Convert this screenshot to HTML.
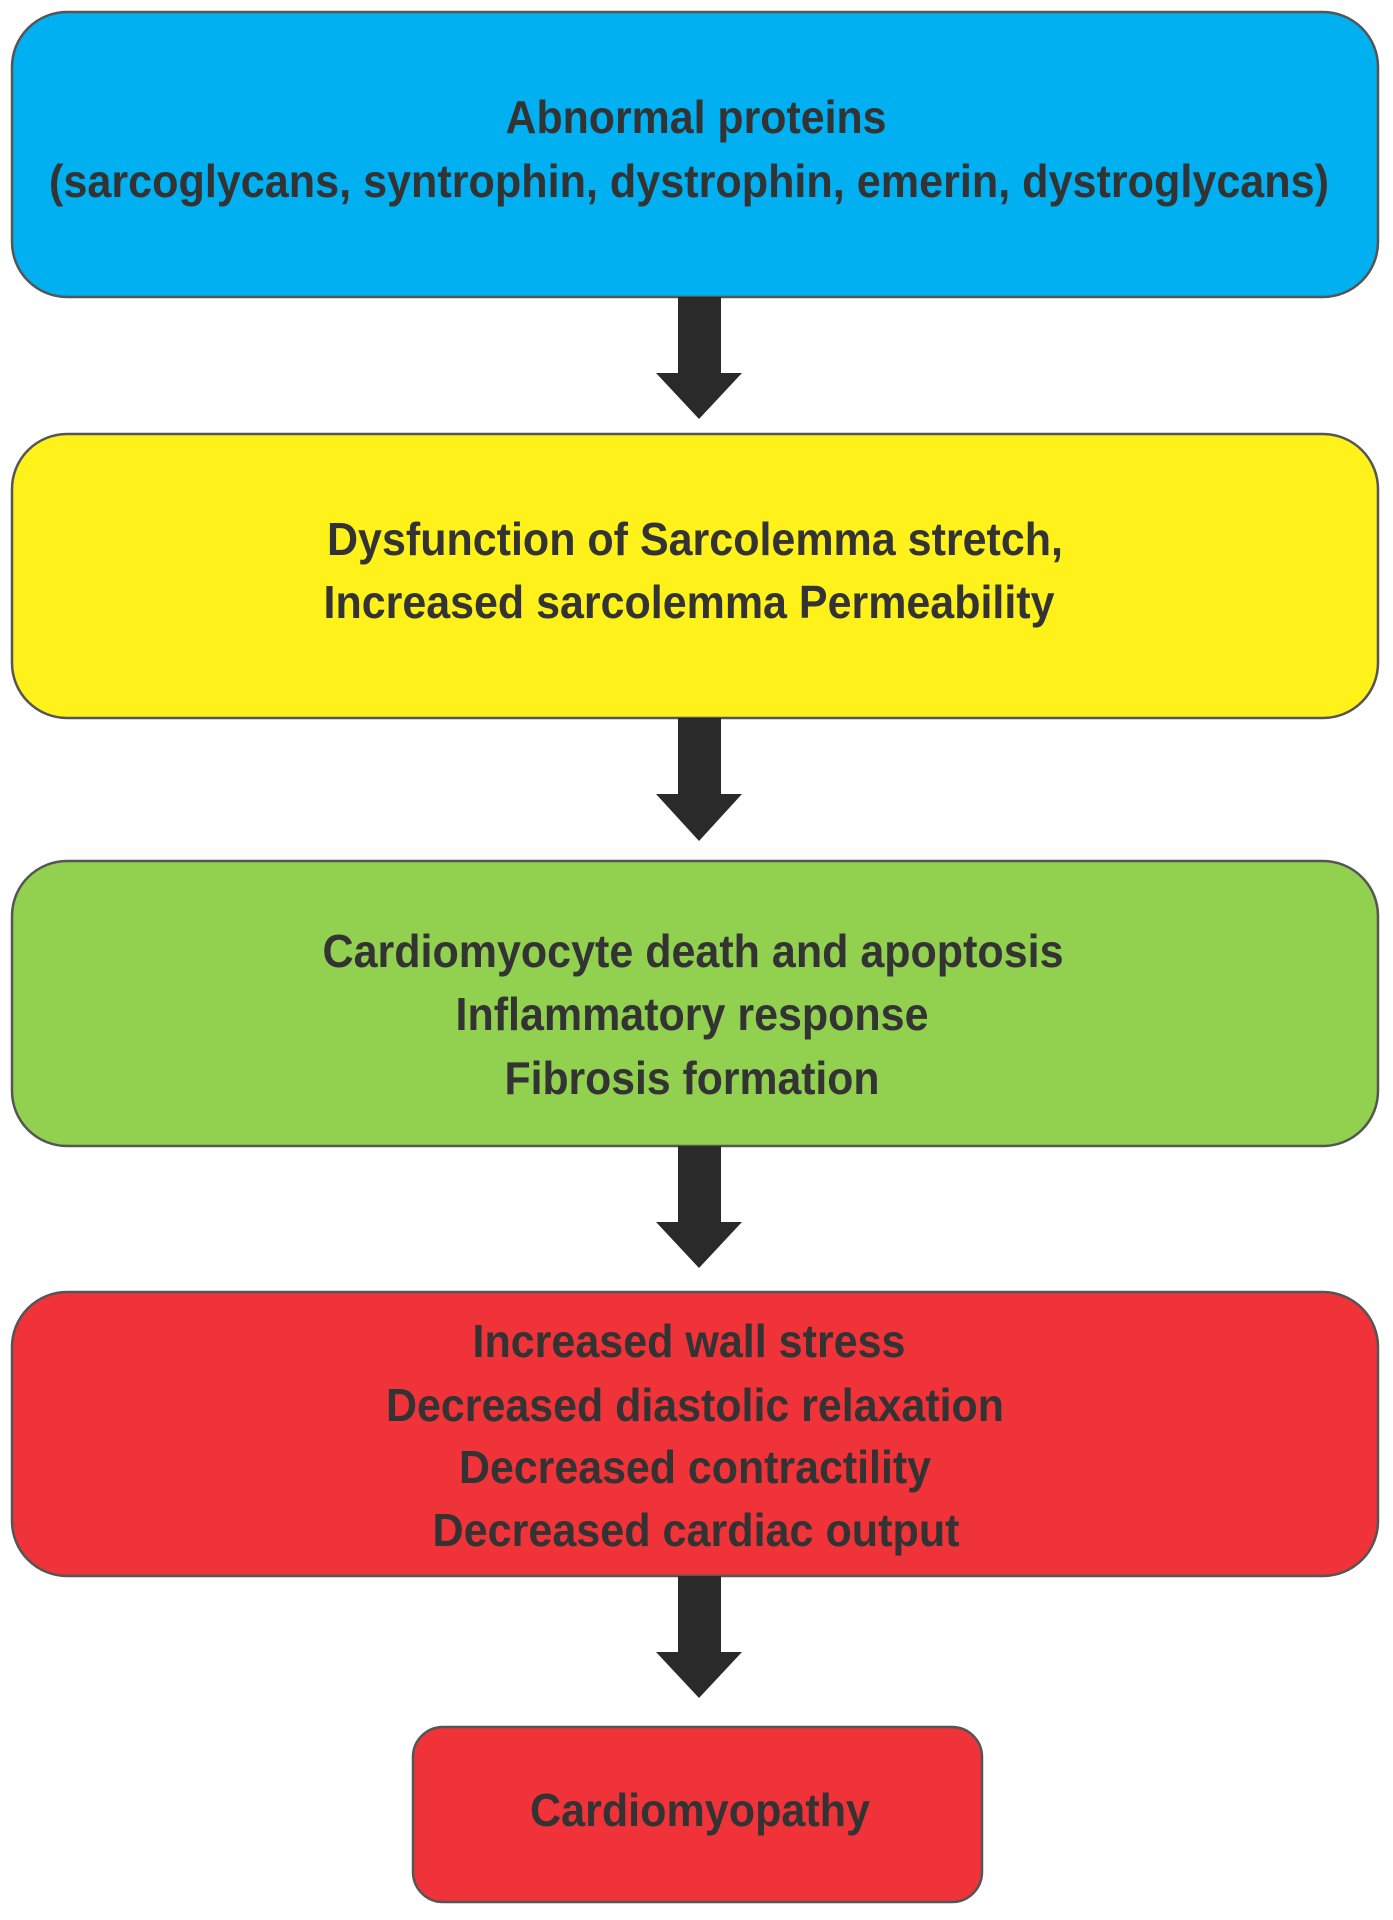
<!DOCTYPE html>
<html><head><meta charset="utf-8"><style>
html,body{margin:0;padding:0;background:#fff;}
svg{display:block;}
text{font-family:"Liberation Sans",sans-serif;font-weight:bold;font-size:46px;fill:#333;}
</style></head><body>
<svg width="1393" height="1920" viewBox="0 0 1393 1920" xmlns="http://www.w3.org/2000/svg">
<g stroke="#555" stroke-width="2.5">
<rect x="12" y="12" width="1366" height="285" rx="55" fill="#00b0f0"/>
<rect x="12" y="434" width="1366" height="284" rx="55" fill="#fff21a"/>
<rect x="12" y="861" width="1366" height="285" rx="55" fill="#92d050"/>
<rect x="12" y="1292" width="1366" height="284" rx="55" fill="#ef3339"/>
<rect x="413" y="1727" width="569" height="175" rx="30" fill="#ef3339"/>
</g>
<g fill="#2a2a2a">
<polygon points="678,297 721,297 721,373 742,373 699,419 656,373 678,373"/>
<polygon points="678,718 721,718 721,794 742,794 699,841 656,794 678,794"/>
<polygon points="678,1146 721,1146 721,1222 742,1222 699,1268 656,1222 678,1222"/>
<polygon points="678,1576 721,1576 721,1652 742,1652 699,1698 656,1652 678,1652"/>
</g>
<g text-anchor="middle" dominant-baseline="central">
<text x="696" y="117" textLength="381" lengthAdjust="spacingAndGlyphs">Abnormal proteins</text>
<text x="689" y="181" textLength="1280" lengthAdjust="spacingAndGlyphs">(sarcoglycans, syntrophin, dystrophin, emerin, dystroglycans)</text>
<text x="695" y="539" textLength="736" lengthAdjust="spacingAndGlyphs">Dysfunction of Sarcolemma stretch,</text>
<text x="689" y="602" textLength="731" lengthAdjust="spacingAndGlyphs">Increased sarcolemma Permeability</text>
<text x="693" y="951" textLength="741" lengthAdjust="spacingAndGlyphs">Cardiomyocyte death and apoptosis</text>
<text x="692" y="1014" textLength="473" lengthAdjust="spacingAndGlyphs">Inflammatory response</text>
<text x="692" y="1078" textLength="375" lengthAdjust="spacingAndGlyphs">Fibrosis formation</text>
<text x="689" y="1341" textLength="433" lengthAdjust="spacingAndGlyphs">Increased wall stress</text>
<text x="695" y="1405" textLength="618" lengthAdjust="spacingAndGlyphs">Decreased diastolic relaxation</text>
<text x="695" y="1467" textLength="472" lengthAdjust="spacingAndGlyphs">Decreased contractility</text>
<text x="696" y="1530" textLength="527" lengthAdjust="spacingAndGlyphs">Decreased cardiac output</text>
<text x="700" y="1810" textLength="340" lengthAdjust="spacingAndGlyphs">Cardiomyopathy</text>
</g>
</svg>
</body></html>
